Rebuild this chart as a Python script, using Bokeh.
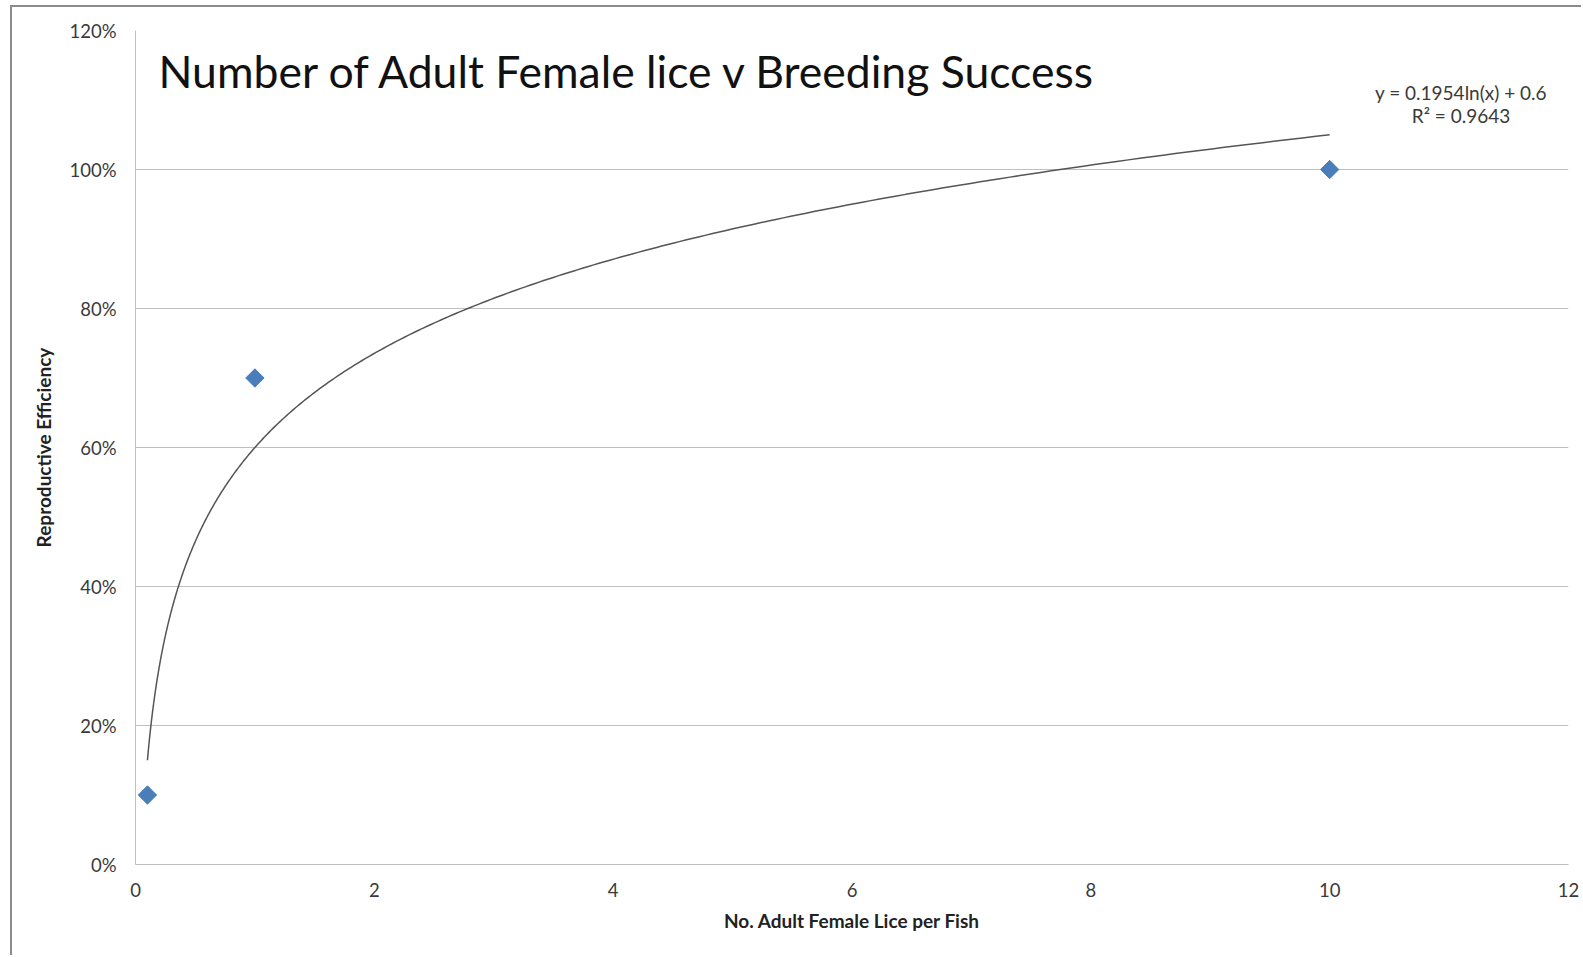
import numpy as np
from bokeh.plotting import figure
from bokeh.models import (Range1d, FixedTicker, NumeralTickFormatter, Label,
                          ColumnDataSource)
from bokeh.embed import file_html
from bokeh.resources import INLINE

# ---- data ----
lice_per_fish = [0.1, 1, 10]
reproductive_efficiency = [0.10, 0.70, 1.00]
trend_a = 0.1954
trend_b = 0.6
trend_x_start = 0.1
trend_x_end = 10
x_ticks = [0, 2, 4, 6, 8, 10, 12]
y_ticks = [0.0, 0.2, 0.4, 0.6, 0.8, 1.0, 1.2]
title_text = "Number of Adult Female lice v Breeding Success"
eq_line1 = "y = 0.1954ln(x) + 0.6"
eq_line2 = "R² = 0.9643"
x_label = "No. Adult Female Lice per Fish"
y_label = "Reproductive Efficiency"

FONT = "Lato"
TXT = "#3a3a3a"
GRID = "#c0c0c0"

W, H = 1571, 950
p = figure(width=W, height=H, output_backend="svg", toolbar_location=None,
           x_range=Range1d(0, 12), y_range=Range1d(0, 1.2),
           min_border_left=123, min_border_right=15,
           min_border_top=23, min_border_bottom=93)
p.outline_line_color = None
p.background_fill_color = "white"
p.border_fill_color = "white"
# outer chart border (only left and top edges visible in the crop)
p.styles = {"margin-left": "10px", "margin-top": "5px",
            "border-left": "2px solid #8c8c8c", "border-top": "2px solid #8c8c8c"}

# axes
for ax in (p.xaxis[0], p.yaxis[0]):
    ax.major_tick_out = 0
    ax.major_tick_in = 0
    ax.minor_tick_out = 0
    ax.minor_tick_in = 0
    ax.axis_line_color = GRID
    ax.axis_line_width = 1
    ax.major_label_text_font = FONT
    ax.major_label_text_font_size = "18.5px"
    ax.major_label_text_color = TXT
    ax.axis_label_text_font = FONT
    ax.axis_label_text_font_size = "19px"
    ax.axis_label_text_font_style = "bold"
    ax.axis_label_text_color = "#222222"

p.xaxis.ticker = FixedTicker(ticks=x_ticks)
p.yaxis.ticker = FixedTicker(ticks=y_ticks)
p.yaxis.formatter = NumeralTickFormatter(format="0%")
p.xaxis.axis_label = x_label
p.yaxis.axis_label = y_label
p.xaxis.major_label_standoff = 18
p.yaxis.major_label_standoff = 19
p.xaxis.axis_label_standoff = 9
p.yaxis.axis_label_standoff = 11

p.xgrid.grid_line_color = None
p.ygrid.grid_line_color = GRID
p.ygrid.grid_line_width = 1

# trendline from displayed equation
tx = np.geomspace(trend_x_start, trend_x_end, 400)
ty = trend_a * np.log(tx) + trend_b
p.line(tx, ty, line_color="#555555", line_width=1.5)

# data points
src = ColumnDataSource(dict(x=lice_per_fish, y=reproductive_efficiency))
p.scatter("x", "y", source=src, marker="square", size=13, angle=np.pi / 4,
          fill_color="#4a7ebb", line_color="#4a7ebb")

# title inside plot area
p.add_layout(Label(x=0.193, y=1.1425, text=title_text, text_font=FONT,
                   text_font_size="44.5px", text_color="#111111",
                   text_baseline="middle", text_align="left"))
p.add_layout(Label(x=11.10, y=1.111, text=eq_line1, text_font=FONT,
                   text_font_size="19px", text_color=TXT,
                   text_baseline="middle", text_align="center"))
p.add_layout(Label(x=11.10, y=1.077, text=eq_line2, text_font=FONT,
                   text_font_size="19px", text_color=TXT,
                   text_baseline="middle", text_align="center"))

open("out.html", "w").write(file_html(p, INLINE))
